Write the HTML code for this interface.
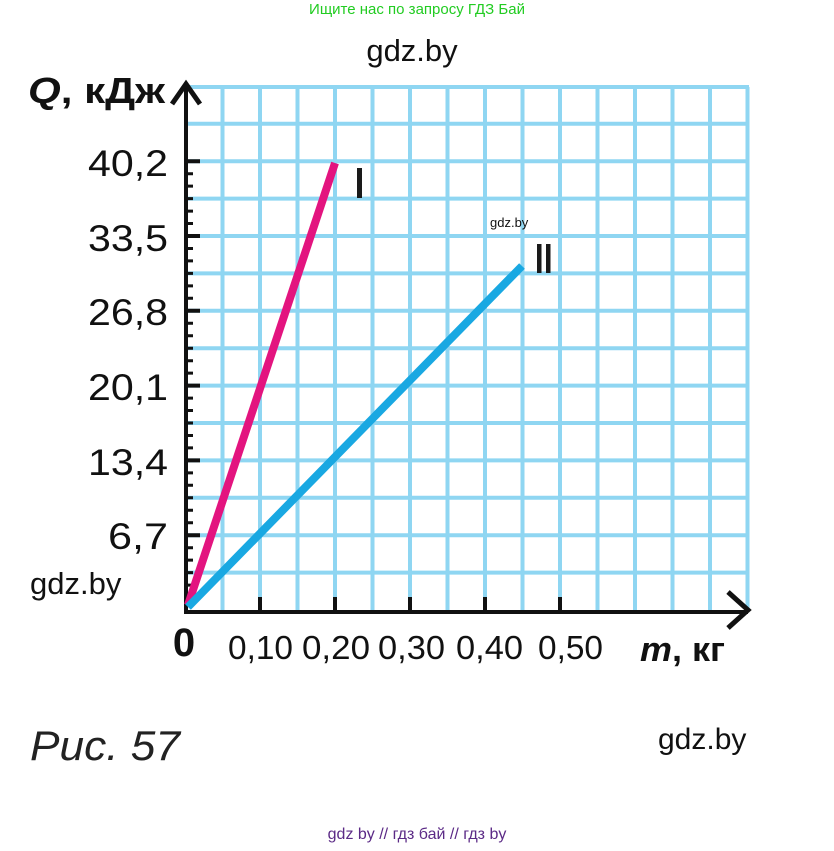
<!DOCTYPE html>
<html><head><meta charset="utf-8"><style>
html,body{margin:0;padding:0;background:#fff;}
body{width:834px;height:846px;overflow:hidden;}
</style></head><body>
<svg width="834" height="846" viewBox="0 0 834 846" xmlns="http://www.w3.org/2000/svg" font-family="Liberation Sans, Noto Sans CJK SC, sans-serif">
<text x="417" y="14" font-size="15" fill="#22cc22" text-anchor="middle">Ищите нас по запросу ГДЗ Бай</text>
<text x="412" y="61" font-size="31" fill="#111" text-anchor="middle">gdz.by</text>
<g stroke="#8fd6f2" stroke-width="4">
<path d="M222.5 87V610M260 87V610M297.5 87V610M335 87V610M372.5 87V610M410 87V610M447.5 87V610M485 87V610M522.5 87V610M560 87V610M597.5 87V610M635 87V610M672.5 87V610M710 87V610M747.5 87V610"/>
<path d="M185 572.6H749M185 535.2H749M185 497.8H749M185 460.4H749M185 423H749M185 385.6H749M185 348.2H749M185 310.8H749M185 273.4H749M185 236H749M185 198.6H749M185 161.2H749M185 123.8H749M185 87H749"/>
</g>
<g stroke="#111" stroke-width="4" fill="none">
<path d="M186 84V612H748"/>
<path d="M172 104L186 84L200 104" stroke-width="5"/>
<path d="M728 592L748 610L728 628" stroke-width="5"/>
</g>
<g stroke="#111" stroke-width="3">
<path d="M185 597.5h8M185 585.1h8M185 572.6h8M185 560.1h8M185 547.7h8M185 522.7h8M185 510.3h8M185 497.8h8M185 485.3h8M185 472.9h8M185 447.9h8M185 435.5h8M185 423h8M185 410.5h8M185 398.1h8M185 373.1h8M185 360.7h8M185 348.2h8M185 335.7h8M185 323.3h8M185 298.3h8M185 285.9h8M185 273.4h8M185 260.9h8M185 248.5h8M185 223.5h8M185 211.1h8M185 198.6h8M185 186.1h8M185 173.7h8"/>
<path d="M185 535.2h15M185 460.4h15M185 385.6h15M185 310.8h15M185 236h15M185 161.2h15" stroke-width="4"/>
<path d="M260 610v-13M335 610v-13M410 610v-13M485 610v-13M560 610v-13" stroke-width="4"/>
</g>
<g stroke-width="8" stroke-linecap="butt">
<line x1="188" y1="605" x2="335" y2="163" stroke="#e3147f"/>
<line x1="188" y1="607" x2="522" y2="266" stroke="#19a8e2"/>
</g>
<rect x="357" y="168" width="5" height="30" fill="#1a1a1a"/>
<rect x="537" y="244" width="4.5" height="29" fill="#1a1a1a"/>
<rect x="546" y="244" width="4.5" height="29" fill="#1a1a1a"/>
<text x="490" y="227" font-size="13" fill="#111">gdz.by</text>
<g font-size="37" fill="#111" text-anchor="end">
<text x="168" y="176" textLength="80" lengthAdjust="spacingAndGlyphs">40,2</text>
<text x="168" y="251" textLength="80" lengthAdjust="spacingAndGlyphs">33,5</text>
<text x="168" y="325" textLength="80" lengthAdjust="spacingAndGlyphs">26,8</text>
<text x="168" y="400" textLength="80" lengthAdjust="spacingAndGlyphs">20,1</text>
<text x="168" y="475" textLength="80" lengthAdjust="spacingAndGlyphs">13,4</text>
<text x="168" y="549" textLength="60" lengthAdjust="spacingAndGlyphs">6,7</text>
</g>
<text x="28" y="103" font-size="36" font-weight="bold" fill="#111" textLength="137" lengthAdjust="spacingAndGlyphs"><tspan font-style="italic">Q</tspan>, кДж</text>
<text x="30" y="594" font-size="31" fill="#111">gdz.by</text>
<text x="184" y="656" font-size="40" font-weight="bold" fill="#111" text-anchor="middle">0</text>
<g font-size="33" fill="#111">
<text x="228" y="659" textLength="65" lengthAdjust="spacingAndGlyphs">0,10</text>
<text x="302" y="659" textLength="68" lengthAdjust="spacingAndGlyphs">0,20</text>
<text x="378" y="659" textLength="67" lengthAdjust="spacingAndGlyphs">0,30</text>
<text x="456" y="659" textLength="67" lengthAdjust="spacingAndGlyphs">0,40</text>
<text x="538" y="659" textLength="65" lengthAdjust="spacingAndGlyphs">0,50</text>
</g>
<text x="640" y="661" font-size="34" font-weight="bold" fill="#111" textLength="85" lengthAdjust="spacingAndGlyphs"><tspan font-style="italic">m</tspan>, кг</text>
<text x="30" y="760" font-size="42" font-style="italic" fill="#222" textLength="150" lengthAdjust="spacingAndGlyphs">Рис. 57</text>
<text x="658" y="749" font-size="30" fill="#111">gdz.by</text>
<text x="417" y="839" font-size="16" fill="#5b2a86" text-anchor="middle">gdz by  //  гдз бай  //  гдз by</text>
</svg>
</body></html>
